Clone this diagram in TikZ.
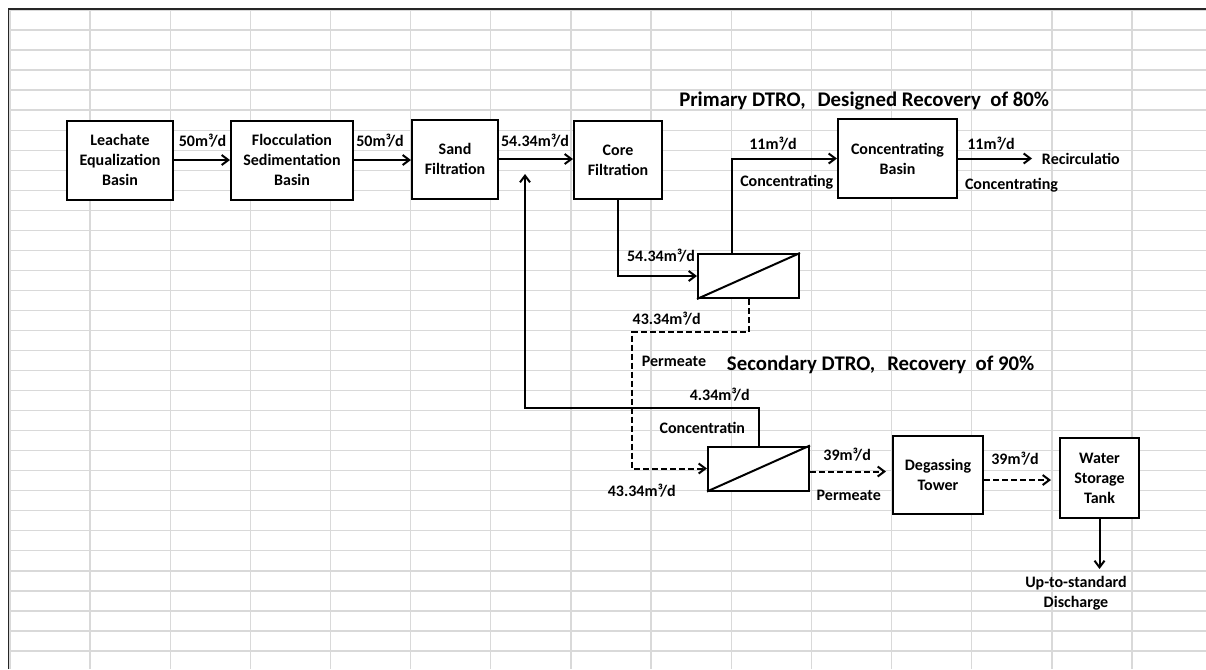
\documentclass[tikz,border=0pt]{standalone}
\usepackage{fontspec}
\setmainfont{Carlito}
\usetikzlibrary{arrows.meta,calc}
\definecolor{gridgray}{HTML}{D9D9D9}
\definecolor{framegray}{HTML}{262626}
\begin{document}
\begin{tikzpicture}[x=0.75pt,y=-0.75pt,
  box/.style={draw,line width=1.5pt,fill=white,align=center,font=\fontsize{12}{15}\selectfont\bfseries,inner sep=0pt},
  mem/.style={draw,line width=1.5pt,fill=white,minimum width=75.75pt,minimum height=33pt,inner sep=0pt},
  lbl/.style={font=\fontsize{12}{15}\selectfont\bfseries,inner sep=0pt,anchor=base},
  ttl/.style={font=\fontsize{15.6}{18}\selectfont\bfseries,inner sep=0pt,anchor=base west},
  arr/.style={line width=1.5pt,-{Straight Barb[length=5pt,width=7.5pt]}},
  darr/.style={arr,dash pattern=on 4.5pt off 2.25pt},
  gridline/.style={draw=gridgray,line width=1pt}
]
\useasboundingbox (0,0) rectangle (1206,669);
\fill[white] (0,0) rectangle (1206,669);
% spreadsheet grid
\foreach \k in {0,...,32} \draw[gridline] (10,{10+20.03*\k}) -- (1206,{10+20.03*\k});
\foreach \k in {0,...,14} \draw[gridline] ({9.9+80.15*\k},10) -- ({9.9+80.15*\k},669);
\draw[framegray,line width=1pt] (8.5,669) -- (8.5,9) -- (1206,9);

% boxes
\node[box,minimum width=79.5pt,minimum height=59.25pt] (b1) at (120,160) {Leachate\\Equalization\\Basin};
\node[box,minimum width=91.5pt,minimum height=59.25pt] (b2) at (292,160) {Flocculation\\Sedimentation\\Basin};
\node[box,minimum width=64.5pt,minimum height=59.25pt] (b3) at (455,159) {Sand\\Filtration};
\node[box,minimum width=66pt,minimum height=58.5pt] (b4) at (618,160) {Core\\Filtration};
\node[mem] (m1) at (748.5,276) {};
\node[box,minimum width=89.25pt,minimum height=59.25pt] (cb) at (897.5,158.5) {Concentrating\\Basin};
\node[mem] (m2) at (758.5,468.5) {};
\node[box,minimum width=67.5pt,minimum height=58.5pt] (dg) at (938,475) {Degassing\\Tower};
\node[box,minimum width=59.25pt,minimum height=60pt] (tk) at (1099.5,478) {Water\\Storage\\Tank};
\draw[line width=1.5pt] (m1.south west) -- (m1.north east);
\draw[line width=1.5pt] (m2.south west) -- (m2.north east);

% free ends / bends
\coordinate (j1) at (525,408);
\coordinate (j2) at (525,174);
\coordinate (j3) at (632,332);
\coordinate (rc) at (1032,158.5);
\coordinate (d1) at (886,471.5);
\coordinate (d2) at (1051,480);
\coordinate (d3) at (1099.5,569);

% connectors
\draw[arr] (b1.east) -- (b2.west);
\draw[arr] (b2.east) -- (b3.west |- b2.east);
\draw[arr] (b3.east) -- (b4.west |- b3.east);
\draw[arr] (b4.south) |- (m1.west);
\draw[arr] ([xshift=-12.15pt]m1.north) |- (cb.west);
\draw[arr] (cb.east) -- (rc);
\draw[darr] (m1.south) |- (j3) |- (m2.west);
\draw[arr] (m2.north) |- (j1) -- (j2);
\draw[darr] (m2.east |- d1) -- (d1);
\draw[darr] (dg.east |- d2) -- (d2);
\draw[arr] (tk.south) -- (d3);

% labels
\node[lbl] (l1) at (202.5,146) {50m³/d};
\node[lbl] (l2) at (380,146) {50m³/d};
\node[lbl] (l3) at (535,146.5) {54.34m³/d};
\node[lbl] (l4) at (661,261) {54.34m³/d};
\node[lbl] (l5) at (773,149.3) {11m³/d};
\node[lbl,anchor=base west] (l6) at (740,186) {Concentrating};
\node[lbl] (l7) at (991,149.3) {11m³/d};
\node[lbl,anchor=base west] (l8) at (1041.7,164) {Recirculatio};
\node[lbl] (l9) at (1011.5,189) {Concentrating};
\node[ttl] (t1) at (679,106) {Primary DTRO,\hspace{9pt}Designed Recovery\hspace{7pt}of 80\%};
\node[lbl] (l10) at (666.7,324.3) {43.34m³/d};
\node[lbl] (l11) at (674,366.7) {Permeate};
\node[ttl] (t2) at (726.7,370.7) {Secondary DTRO,\hspace{9pt}Recovery\hspace{7pt}of 90\%};
\node[lbl] (l12) at (719.7,400) {4.34m³/d};
\node[lbl] (l13) at (702.3,433) {Concentratin};
\node[lbl] (l14) at (641.8,496) {43.34m³/d};
\node[lbl] (l15) at (847.2,460) {39m³/d};
\node[lbl] (l16) at (848.8,500) {Permeate};
\node[lbl] (l17) at (1015,464.3) {39m³/d};
\node[lbl,align=center] (l18) at (1076,607.7) {Up-to-standard\\Discharge};
\end{tikzpicture}
\end{document}
